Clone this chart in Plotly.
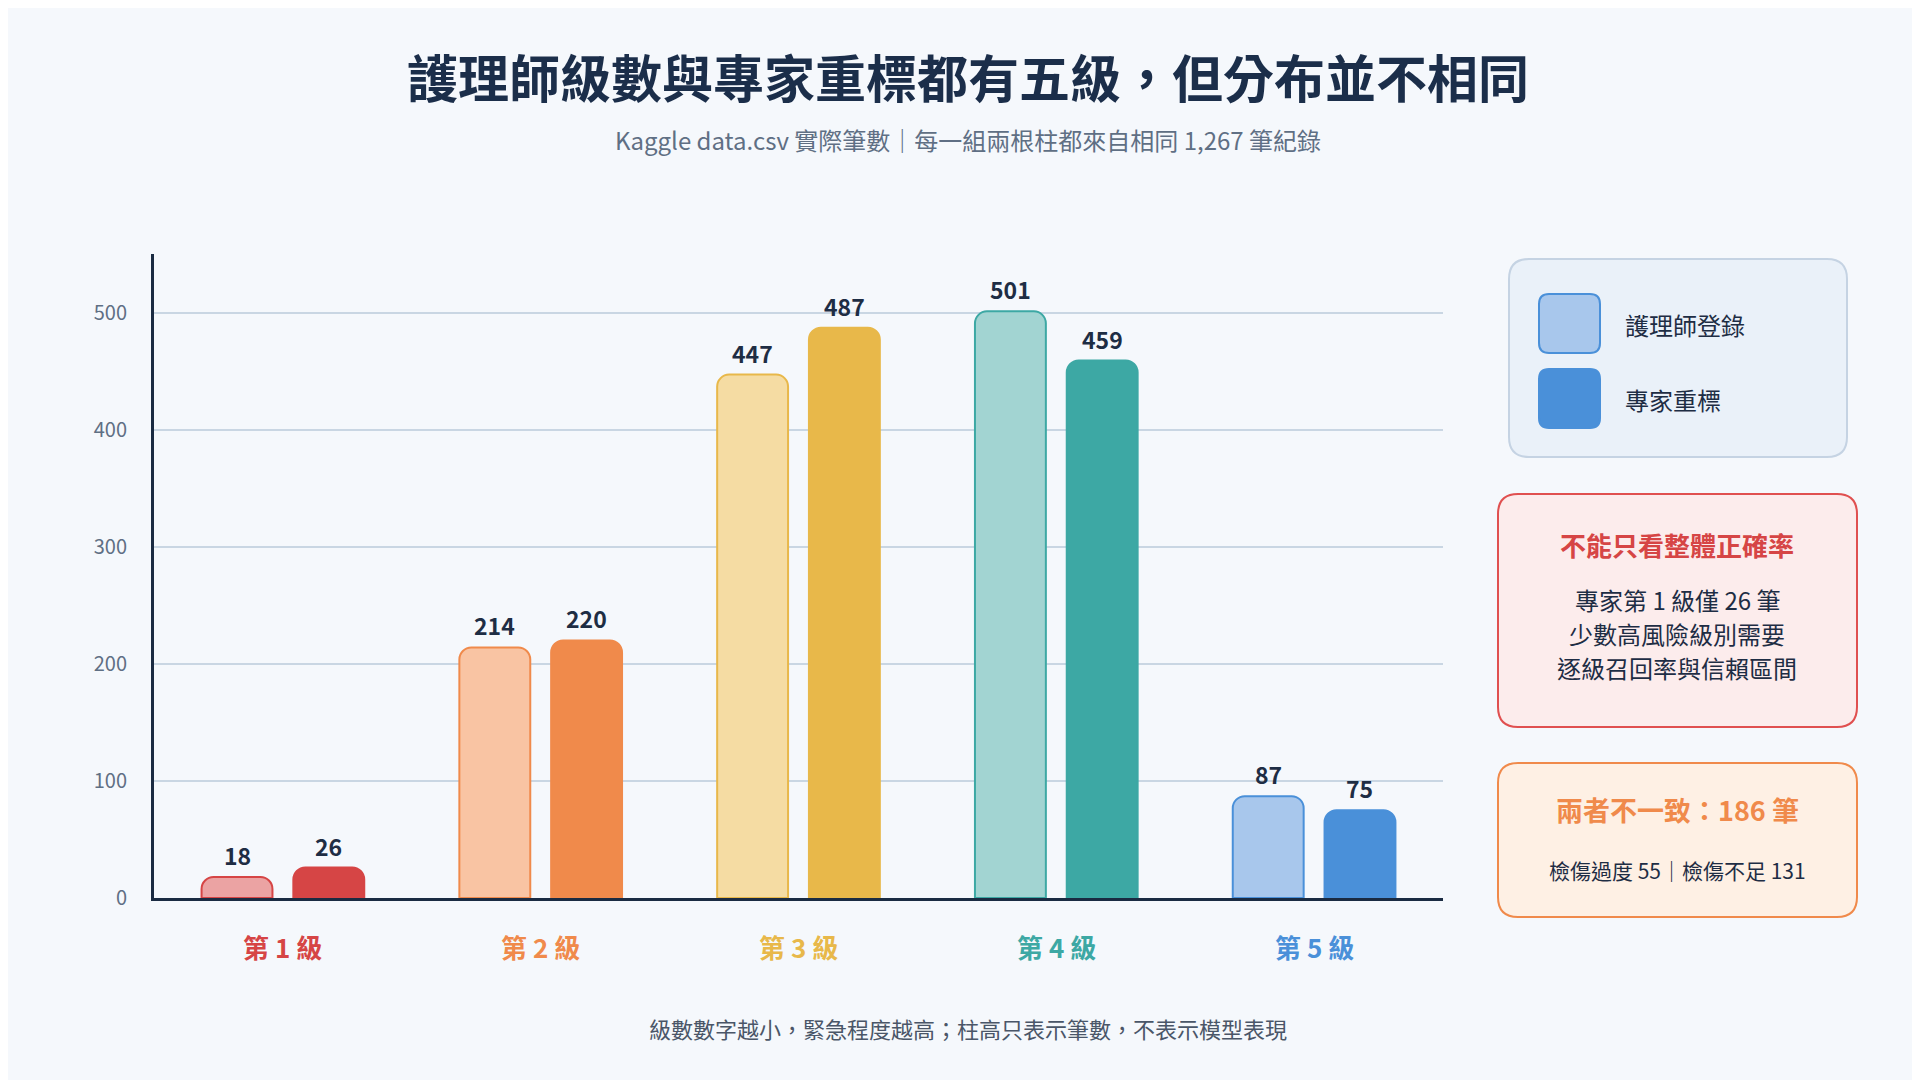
import plotly.graph_objects as go

levels = ["第 1 級", "第 2 級", "第 3 級", "第 4 級", "第 5 級"]
nurse = [18, 214, 447, 501, 87]
expert = [26, 220, 487, 459, 75]
dark = ["#D64545", "#F08A4B", "#E8B84A", "#3DA8A4", "#4A90D9"]
light = ["#EBA3A3", "#F9C4A3", "#F5DCA3", "#A2D4D2", "#A8C7EC"]
yticks = [0, 100, 200, 300, 400, 500]

W, H = 1920, 1080
L, R, T, B = 146, 1435, 246, 890
FONT = "Noto Sans CJK TC"

def px(x): return (x - L) / (R - L)
def py(y): return (B - y) / (B - T)

xs = list(range(len(levels)))
off, bw = 0.178, 0.275
fig = go.Figure()
fig.add_bar(x=[i - off for i in xs], y=nurse, width=bw, marker=dict(color=light, line=dict(color=dark, width=2)),
            showlegend=False)
fig.add_bar(x=[i + off for i in xs], y=expert, width=bw, marker=dict(color=dark, line=dict(color=dark, width=2)),
            showlegend=False)

ann = []
for i in xs:
    for dx, v in ((-off, nurse[i]), (off, expert[i])):
        ann.append(dict(x=i + dx, y=v, yshift=22, text=f"<b>{v}</b>", showarrow=False,
                        font=dict(size=23, color="#1E2D44", family=FONT), yanchor="middle"))
    ann.append(dict(x=i, y=0, yshift=-48, text=f"<b>{levels[i]}</b>", showarrow=False,
                    font=dict(size=26, color=dark[i], family=FONT)))

def txt(x, y, t, size, color, bold=False, xanchor="center"):
    ann.append(dict(xref="paper", yref="paper", x=px(x), y=py(y), text=f"<b>{t}</b>" if bold else t,
                    showarrow=False, xanchor=xanchor, yanchor="middle", font=dict(size=size, color=color, family=FONT)))

txt(960, 68, "護理師級數與專家重標都有五級，但分布並不相同", 51, "#1B2E4A", True)
txt(960, 132, "Kaggle data.csv 實際筆數｜每一組兩根柱都來自相同 1,267 筆紀錄", 24, "#5F6F84")
txt(960, 1020, "級數數字越小，緊急程度越高；柱高只表示筆數，不表示模型表現", 22, "#4A5668")

shapes = []
def rr(x0, y0, x1, y1, r):
    X = lambda v: px(v); Y = lambda v: py(v)
    return (f"M {X(x0+r)},{Y(y0)} L {X(x1-r)},{Y(y0)} Q {X(x1)},{Y(y0)} {X(x1)},{Y(y0+r)} "
            f"L {X(x1)},{Y(y1-r)} Q {X(x1)},{Y(y1)} {X(x1-r)},{Y(y1)} L {X(x0+r)},{Y(y1)} "
            f"Q {X(x0)},{Y(y1)} {X(x0)},{Y(y1-r)} L {X(x0)},{Y(y0+r)} Q {X(x0)},{Y(y0)} {X(x0+r)},{Y(y0)} Z")
def box(x0, y0, x1, y1, fill, line, w=2, r=20):
    shapes.append(dict(type="path", xref="paper", yref="paper", fillcolor=fill, line=dict(color=line, width=w),
                       path=rr(x0, y0, x1, y1, r)))

box(1501, 251, 1839, 449, "#EAF1F9", "#C5D3E3")
box(1531, 286, 1592, 345, "#A8C7EC", "#4A90D9", 2, 10)
box(1531, 361, 1592, 420, "#4A90D9", "#4A90D9", 2, 10)
txt(1615, 316, "護理師登錄", 24, "#1E2D44", xanchor="left")
txt(1615, 391, "專家重標", 24, "#1E2D44", xanchor="left")

box(1490, 486, 1849, 719, "#FCECEC", "#E05050")
txt(1669, 536, "不能只看整體正確率", 26, "#D64545", True)
txt(1669, 591, "專家第 1 級僅 26 筆", 24, "#1E2D44")
txt(1669, 625, "少數高風險級別需要", 24, "#1E2D44")
txt(1669, 659, "逐級召回率與信賴區間", 24, "#1E2D44")

box(1490, 755, 1849, 909, "#FEF0E4", "#F08A4B")
txt(1669, 801, "兩者不一致：186 筆", 27, "#F08A4B", True)
txt(1669, 862, "檢傷過度 55｜檢傷不足 131", 21, "#1E2D44")

fig.update_layout(
    width=W, height=H, paper_bgcolor="#F5F8FC", plot_bgcolor="#F5F8FC",
    margin=dict(l=L, r=W - R, t=T, b=H - B), barmode="overlay", barcornerradius=12,
    annotations=ann, shapes=shapes, font=dict(family=FONT),
    xaxis=dict(range=[-0.5, 4.5], showticklabels=False, showgrid=False, zeroline=False,
               showline=True, linecolor="#1A2B42", linewidth=3),
    yaxis=dict(range=[0, 550], tickvals=yticks, showgrid=True, gridcolor="#C9D6E3", gridwidth=1.5,
               zeroline=False, showline=True, linecolor="#1A2B42", linewidth=3, ticks="",
               tickfont=dict(size=20, color="#5F6F84"), ticklabelstandoff=20),
)
fig.write_html("out.html")
